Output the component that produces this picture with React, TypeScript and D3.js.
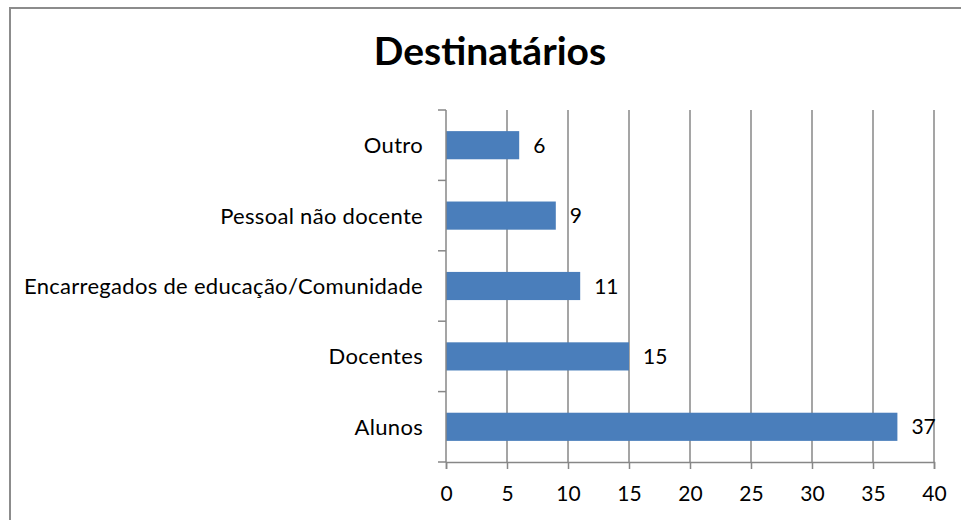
import * as d3 from 'd3';
import React, { useEffect, useRef } from 'react';

const categories = ['Outro', 'Pessoal não docente', 'Encarregados de educação/Comunidade', 'Docentes', 'Alunos'];
const values = [6, 9, 11, 15, 37];
const xTicks = [0, 5, 10, 15, 20, 25, 30, 35, 40];
const title = 'Destinatários';

export default function App() {
  const ref = useRef<SVGSVGElement>(null);

  function drawChart() {
    const svg = d3.select(ref.current);
    svg.selectAll('*').remove();
    const font = 'Lato, Carlito, Calibri, sans-serif';
    const grey = '#878787';

    // chart frame, cut off at right and bottom like the source
    svg
      .append('rect')
      .attr('x', 10)
      .attr('y', 8)
      .attr('width', 1000)
      .attr('height', 600)
      .attr('fill', '#fff')
      .attr('stroke', '#8c8c8c')
      .attr('stroke-width', 2);

    svg
      .append('text')
      .attr('x', 490)
      .attr('y', 65)
      .attr('text-anchor', 'middle')
      .attr('font-family', font)
      .attr('font-weight', 'bold')
      .attr('font-size', 39)
      .text(title);

    const x = d3.scaleLinear().domain([0, 40]).range([446, 934]);
    const y = d3.scaleBand().domain(categories).range([110, 462]).paddingInner(0.6).paddingOuter(0.3);

    // gridlines
    svg
      .append('g')
      .selectAll('line')
      .data(xTicks.slice(1))
      .enter()
      .append('line')
      .attr('x1', (d) => x(d))
      .attr('x2', (d) => x(d))
      .attr('y1', 110)
      .attr('y2', 462)
      .attr('stroke', grey)
      .attr('stroke-width', 1.5);

    // bars
    svg
      .append('g')
      .selectAll('rect')
      .data(values)
      .enter()
      .append('rect')
      .attr('x', x(0))
      .attr('y', (d, i) => y(categories[i]) as number)
      .attr('width', (d) => x(d) - x(0))
      .attr('height', y.bandwidth())
      .attr('fill', '#4a7ebb');

    // value labels
    svg
      .append('g')
      .selectAll('text')
      .data(values)
      .enter()
      .append('text')
      .attr('x', (d) => x(d) + 14)
      .attr('y', (d, i) => (y(categories[i]) as number) + y.bandwidth() / 2)
      .attr('dy', '0.36em')
      .attr('font-family', font)
      .attr('font-size', 21)
      .text((d) => d);

    // y axis
    const yAxis = svg.append('g');
    yAxis
      .append('line')
      .attr('x1', x(0))
      .attr('x2', x(0))
      .attr('y1', 110)
      .attr('y2', 462)
      .attr('stroke', grey)
      .attr('stroke-width', 1.5);
    const bounds = d3.range(categories.length + 1).map((i) => 110 + i * (352 / categories.length));
    yAxis
      .selectAll('line.tick')
      .data(bounds)
      .enter()
      .append('line')
      .attr('class', 'tick')
      .attr('x1', x(0) - 8)
      .attr('x2', x(0))
      .attr('y1', (d) => d)
      .attr('y2', (d) => d)
      .attr('stroke', grey)
      .attr('stroke-width', 1.5);
    yAxis
      .selectAll('text')
      .data(categories)
      .enter()
      .append('text')
      .attr('x', 423)
      .attr('y', (d) => (y(d) as number) + y.bandwidth() / 2)
      .attr('dy', '0.36em')
      .attr('text-anchor', 'end')
      .attr('font-family', font)
      .attr('font-size', 22)
      .attr('letter-spacing', 0.3)
      .text((d) => d);

    // x axis
    const xAxis = svg
      .append('g')
      .attr('transform', 'translate(0,462)')
      .call(d3.axisBottom(x).tickValues(xTicks).tickSize(7).tickPadding(17));
    xAxis.select('.domain').attr('stroke', grey).attr('stroke-width', 1.5);
    xAxis.selectAll('.tick line').attr('stroke', grey).attr('stroke-width', 1.5);
    xAxis
      .selectAll('.tick text')
      .attr('font-family', font)
      .attr('font-size', 21)
      .attr('fill', '#000');
  }

  useEffect(() => {
    drawChart();
  }, []);

  return (
    <svg
      ref={ref}
      width={961}
      height={520}
      style={{ position: 'absolute', left: 0, top: 0, background: '#fff' }}
    ></svg>
  );
}
